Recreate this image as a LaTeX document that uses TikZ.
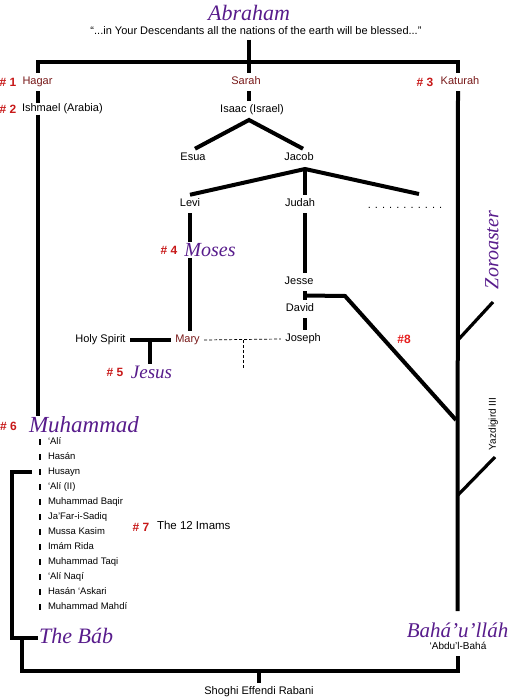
\documentclass[tikz,border=0pt]{standalone}
\usepackage{fontspec}
\setmainfont{Liberation Sans}
\newfontfamily\serifit{Liberation Serif}
\usetikzlibrary{calc}
\definecolor{purp}{RGB}{88,28,140}
\definecolor{maroon}{RGB}{120,25,25}
\definecolor{numred}{RGB}{200,25,25}
\definecolor{brightred}{RGB}{230,30,30}
\begin{document}
\begin{tikzpicture}[x=1pt,y=-1pt,
  lbl/.style={font=\fontsize{11}{13}\selectfont, text height=7.5pt, text depth=2pt, inner sep=1pt, outer sep=3.5pt},
  mar/.style={lbl, text=maroon},
  small/.style={lbl, font=\fontsize{10}{12}\selectfont},
  num/.style={font=\fontsize{12}{13}\selectfont\bfseries, text=numred, inner sep=1pt},
  big/.style={font=\serifit\itshape\fontsize{#1}{#1}\selectfont, text=purp, inner sep=1pt},
  big/.default=22,
  imam/.style={lbl, font=\fontsize{9.5}{11}\selectfont, anchor=west, outer sep=0pt},
  bulletmark/.style={fill=black, inner sep=0pt, minimum width=2.5pt, minimum height=6pt},
  ln/.style={line width=4pt},
  lnb/.style={line width=3.2pt},
  dsh/.style={line width=0.7pt, dashed, dash pattern=on 3pt off 2pt}]
\useasboundingbox[fill=white] (0,0) rectangle (512,700);

% top
\node[big=22] (abraham) at (249,13) {Abraham};
\node[lbl, outer sep=2pt] (quote) at (256,32) {“...in Your Descendants all the nations of the earth will be blessed...”};
\coordinate (top) at (249,62);
\coordinate (tr) at (458,62);

\node[mar] (hagar) at (37.5,82) {Hagar};
\node[num] (n1) at (8,82) {\# 1};
\node[mar] (sarah) at (246,82) {Sarah};
\node[mar] (katurah) at (460,82) {Katurah};
\node[num] (n3) at (425,82) {\# 3};
\node[lbl, anchor=west, outer sep=0pt] (ishmael) at (21,109) {Ishmael (Arabia)};
\node[num] (n2) at (8,109) {\# 2};
\node[lbl] (isaac) at (252,110) {Isaac (Israel)};

\draw[ln] (quote.south -| top) -- (sarah.north -| top);
\draw[ln] (hagar.north) |- (tr) -- (katurah.north -| tr);
\draw[ln] (sarah.south -| top) -- (isaac.north -| top);

% Isaac's sons
\node[lbl] (esua) at (193,158) {Esua};
\node[lbl] (jacob) at (299,158) {Jacob};
\coordinate (iapex) at (249,120);
\draw[ln] ([xshift=2pt]esua.north) -- (iapex) -- ([xshift=4pt]jacob.north);

% Jacob's sons
\node[lbl] (levi) at (190,204) {Levi};
\node[lbl] (judah) at (300,204) {Judah};
\node[lbl] (dots) at (405,206) {. . . . . . . . . . .};
\coordinate (japex) at (305,169);
\coordinate (dotsend) at (419,194);
\draw[ln] (levi.north) -- (japex) -- (dotsend);
\draw[ln] (japex) -- (japex |- judah.north);

% Moses line
\node[big=20] (moses) at (210,250) {Moses};
\node[num] (n4) at (169,250) {\# 4};
\node[mar] (mary) at (187.5,340) {Mary};
\draw[ln] (levi.south) -- (levi.south |- moses.north);
\draw[ln] (moses.south -| levi) -- (mary.north -| levi);

% Judah line
\node[lbl] (jesse) at (299,282) {Jesse};
\node[lbl] (david) at (300,309) {David};
\node[lbl] (joseph) at (303,339) {Joseph};
\draw[ln] (judah.south -| japex) -- (jesse.north -| japex);
\draw[ln] (jesse.south -| japex) -- (david.north -| japex);
\draw[ln] (david.south -| japex) -- (joseph.north -| japex);
\coordinate (jd) at ($(jesse.south)!0.5!(david.north)$);
\coordinate (j8) at (345,296);
\coordinate (r8) at (456,420);
\draw[ln] (jd -| japex) -- (j8) -- (r8);
\node[font=\fontsize{12}{13}\selectfont\bfseries, text=brightred, inner sep=1pt] (n8) at (404,339) {\#8};

% Jesus
\node[lbl] (holy) at (100.5,340) {Holy Spirit};
\node[big=19] (jesus) at (151.5,372) {Jesus};
\node[num] (n5) at (115,372) {\# 5};
\draw[ln] (holy.east) -- (mary.west);
\coordinate (hm) at ($(holy.east)!0.5!(mary.west)$);
\draw[ln] (hm) -- (hm |- jesus.north);
\draw[dsh] (mary.east) -- (joseph.west);
\coordinate (dj) at (243,340);
\coordinate (dend) at (243,368);
\draw[dsh] (dj) -- (dend);

% Zoroaster and right side
\node[big=20, rotate=90] (zoro) at (492,250) {Zoroaster};
\node[small, rotate=90, outer sep=0pt] (yaz) at (493,424) {Yazdigird III};
\node[big=21, anchor=base] (baha) at (457.5,637) {Bahá’u’lláh};
\node[small] (abdu) at (458,647) {‘Abdu’l-Bahá};
\draw[ln] (katurah.south -| tr) -- ($(baha.north)+(0,-10)$);
\coordinate (zj) at (458,340);
\coordinate (zend) at (493,302);
\draw[lnb] (zj) -- (zend);
\coordinate (yj) at (458,495);
\coordinate (yend) at (495,457);
\draw[lnb] (yj) -- (yend);

% Muhammad
\node[big=23] (muhammad) at (84,425) {Muhammad};
\node[num] (n6) at (8.5,426) {\# 6};
\draw[ln] (ishmael.south -| hagar) -- (muhammad.north -| hagar);
\draw[ln] (hagar.south) -- (ishmael.north -| hagar);

% Imams
\foreach \nm [count=\i from 0] in {‘Alí, Hasán, Husayn, ‘Alí (II), Muhammad Baqir, Ja’Far-i-Sadiq, Mussa Kasim, Imám Rida, Muhammad Taqi, ‘Alí Naqí, Hasán ‘Askari, Muhammad Mahdí}{
  \node[bulletmark] (b\i) at (40,{442+15*\i}) {};
  \node[imam] (imam\i) at (47,{442+15*\i}) {\nm};
}
\node[num] (n7) at (141,527) {\# 7};
\node[lbl, anchor=west, outer sep=0pt, font=\fontsize{11.5}{13}\selectfont] (twelve) at (156,527) {The 12 Imams};

% The Bab
\node[big=22, anchor=west] (bab) at (38,636) {The Báb};
\coordinate (lb1) at (32,472);
\coordinate (lb2) at (12,472);
\coordinate (lb3) at (12,638);
\draw[ln] (lb1) -- (lb2) -- (lb3) -- (bab.west |- lb3);

% bottom
\node[lbl] (shoghi) at (259,692) {Shoghi Effendi Rabani};
\coordinate (bj) at (22,638);
\coordinate (bl) at (22,671);
\draw[ln] (abdu.south) |- (bl) -- (bj);
\draw[ln] (shoghi.north |- bl) -- (shoghi.north);
\end{tikzpicture}
\end{document}
